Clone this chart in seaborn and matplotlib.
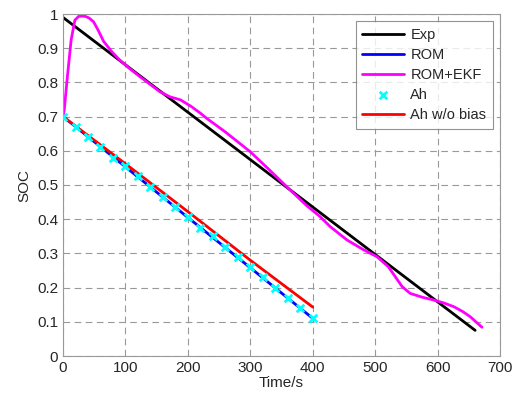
import pandas as pd
import matplotlib
matplotlib.use('Agg')
import matplotlib.pyplot as plt
import seaborn as sns

# Dane
t_exp = [0, 660]
soc_exp = [0.99, 0.075]

t_rom = [0, 100, 200, 300, 400]
soc_rom = [0.70, 0.553, 0.405, 0.258, 0.11]

t_ekf = [0, 2, 7, 13, 19, 25, 30, 36, 42, 49, 57, 65, 78, 91, 107, 123, 139, 155,
         171, 188, 205, 220, 230, 260, 300, 330, 364, 390, 412, 428, 455, 480, 503,
         521, 532, 543, 556, 575, 593, 610, 626, 640, 652, 671]
soc_ekf = [0.70, 0.72, 0.817, 0.924, 0.982, 0.993, 0.994, 0.993, 0.988, 0.977, 0.95,
           0.92, 0.89, 0.865, 0.84, 0.817, 0.795, 0.773, 0.758, 0.749, 0.73, 0.71,
           0.695, 0.655, 0.597, 0.545, 0.485, 0.44, 0.407, 0.378, 0.339, 0.312, 0.29,
           0.261, 0.232, 0.203, 0.183, 0.172, 0.164, 0.155, 0.144, 0.13, 0.115, 0.084]

t_ah = [0, 20, 40, 60, 80, 100, 120, 140, 160, 180, 200, 220, 240, 260, 280, 300,
        320, 340, 360, 380, 400]
soc_ah = [0.70, 0.67, 0.64, 0.61, 0.58, 0.555, 0.525, 0.495, 0.465, 0.435, 0.405,
          0.375, 0.35, 0.32, 0.29, 0.26, 0.23, 0.20, 0.17, 0.14, 0.11]

t_nobias = [0, 100, 200, 300, 400]
soc_nobias = [0.70, 0.562, 0.422, 0.28, 0.143]

sns.set_style('white')
plt.rcParams['font.family'] = ['Liberation Sans', 'DejaVu Sans']

fig = plt.figure(figsize=(5.14, 4.0), dpi=100)
ax = fig.add_axes([0.1226, 0.11, 0.8504, 0.855])

sns.lineplot(x=t_exp, y=soc_exp, color='black', lw=2, label='Exp', ax=ax)
sns.lineplot(x=t_rom, y=soc_rom, color='blue', lw=2, label='ROM', ax=ax)
sns.lineplot(x=t_ekf, y=soc_ekf, color='magenta', lw=2, label='ROM+EKF', ax=ax, sort=False)
sns.scatterplot(x=t_ah, y=soc_ah, color='cyan', marker='x', s=30, linewidth=2,
                label='Ah', ax=ax, zorder=3)
sns.lineplot(x=t_nobias, y=soc_nobias, color='red', lw=2, label='Ah w/o bias', ax=ax)

ax.set_xlim(0, 700)
ax.set_ylim(0, 1)
ax.set_xticks(range(0, 701, 100))
ax.set_yticks([0, 0.1, 0.2, 0.3, 0.4, 0.5, 0.6, 0.7, 0.8, 0.9, 1])
ax.set_yticklabels(['0', '0.1', '0.2', '0.3', '0.4', '0.5', '0.6', '0.7', '0.8', '0.9', '1'])
ax.grid(True, linestyle=(0, (6, 4)), color='#999999', lw=0.8)
ax.tick_params(direction='in', length=4, labelsize=11, color='#888888')
for s in ax.spines.values():
    s.set_color('#999999')
ax.set_xlabel('Time/s', fontsize=11, labelpad=1)
ax.set_ylabel('SOC', fontsize=11)

leg = ax.legend(loc='upper right', fontsize=10.5, frameon=True, fancybox=False,
                edgecolor='#777777', borderaxespad=0.5, handlelength=2.9,
                labelspacing=0.42, borderpad=0.45, handletextpad=0.4)
leg.get_frame().set_linewidth(0.8)

fig.savefig('out.png', dpi=100)
